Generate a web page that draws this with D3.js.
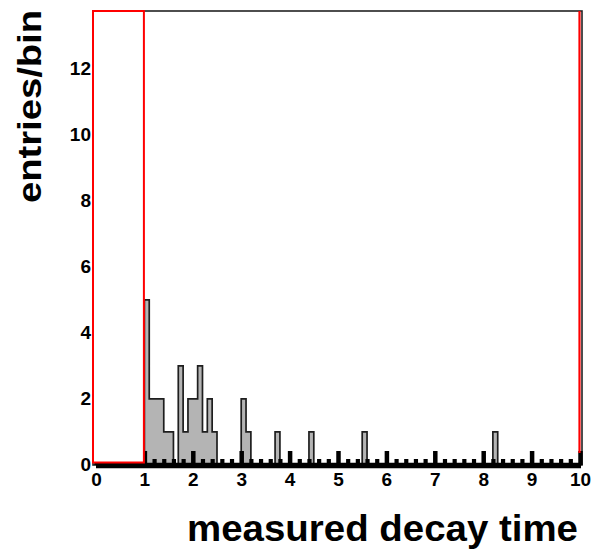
<!DOCTYPE html>
<html>
<head>
<meta charset="utf-8">
<script src="https://cdn.jsdelivr.net/npm/d3@7"></script>
<style>
  html, body { margin: 0; padding: 0; background: #fff; }
  svg { display: block; }
  text { font-family: "Liberation Sans", Arial, Helvetica, sans-serif; font-weight: bold; fill: #000; }
</style>
</head>
<body>
<script>
// ---- data ----
const binWidth = 0.1;
const binLow  = [1.0, 1.1, 1.2, 1.3, 1.4, 1.5, 1.7, 1.8, 1.9, 2.0, 2.1, 2.2, 2.3, 2.4, 3.0, 3.1, 3.7, 4.4, 5.5, 8.2];
const counts  = [5,   2,   2,   2,   1,   1,   3,   1,   2,   2,   3,   1,   2,   1,   2,   1,   1,   1,   1,   1];
const xTicks  = [0, 1, 2, 3, 4, 5, 6, 7, 8, 9, 10];
const yTicks  = [0, 2, 4, 6, 8, 10, 12];
const xDomain = [0, 10];
const yDomain = [0, 13.74];
const redBox  = [0, 1];
const xTitle  = "measured decay time";
const yTitle  = "entries/bin";

// ---- layout ----
const W = 593, H = 551;
const svg = d3.select("body").append("svg").attr("width", W).attr("height", H);

const x = d3.scaleLinear().domain(xDomain).range([96, 580]);
const y = d3.scaleLinear().domain(yDomain).range([465, 11]);

// histogram step path
const nBins = Math.round((xDomain[1] - xDomain[0]) / binWidth);
const dense = new Array(nBins).fill(0);
binLow.forEach((b, i) => { dense[Math.round((b - xDomain[0]) / binWidth)] = counts[i]; });
const pts = [[xDomain[0], 0]];
dense.forEach((c, i) => pts.push([xDomain[0] + i * binWidth, c]));
pts.push([xDomain[1], 0]);

const line = d3.line().x(d => x(d[0])).y(d => y(d[1])).curve(d3.curveStepAfter);
svg.append("path")
  .attr("d", line(pts))
  .attr("fill", "#b4b4b4")
  .attr("stroke", "#1e1e1e")
  .attr("stroke-width", 1.7)
  .attr("stroke-linejoin", "miter");

// frame (top/right)
svg.append("rect")
  .attr("x", 93).attr("y", y(yDomain[1]))
  .attr("width", 582 - 93).attr("height", y(0) - y(yDomain[1]))
  .attr("fill", "none").attr("stroke", "#222").attr("stroke-width", 1.6);

// x axis: minor ticks
const minor = d3.range(0, 10.001, 0.2).filter(v => Math.abs(v - Math.round(v)) > 1e-6);
const gMinor = svg.append("g").attr("transform", `translate(0,${y(0)})`)
  .call(d3.axisBottom(x).tickValues(minor).tickSize(-6).tickSizeOuter(0).tickFormat(""));
gMinor.select(".domain").remove();
gMinor.selectAll(".tick line").attr("stroke", "#000").attr("stroke-width", 4.2);

// x axis: major ticks + labels
const gX = svg.append("g").attr("transform", `translate(0,${y(0)})`)
  .call(d3.axisBottom(x).tickValues(xTicks).tickSize(-14).tickSizeOuter(0).tickPadding(8).tickFormat(d3.format("d")));
gX.select(".domain").attr("stroke", "#000").attr("stroke-width", 5.5)
  .attr("d", `M${x(0)},0.5H${x(10) + 1}`);
gX.selectAll(".tick line").attr("stroke", "#000").attr("stroke-width", 4.5);
gX.selectAll(".tick text").attr("font-size", 19).attr("font-weight", "bold")
  .attr("font-family", "Liberation Sans, Arial, sans-serif").attr("fill", "#000");

// y axis labels
const gY = svg.append("g").attr("transform", `translate(93,0)`)
  .call(d3.axisLeft(y).tickValues(yTicks).tickSize(0).tickPadding(2).tickFormat(d3.format("d")));
gY.select(".domain").remove();
gY.selectAll(".tick text").attr("font-size", 19).attr("font-weight", "bold")
  .attr("font-family", "Liberation Sans, Arial, sans-serif").attr("fill", "#000")
  .attr("dy", "0.3em");

// red box (white inside, hides ticks) and red right line
svg.append("rect")
  .attr("x", x(redBox[0]) - 3).attr("y", y(yDomain[1]))
  .attr("width", x(redBox[1]) - x(redBox[0]) + 3 - 0.5)
  .attr("height", y(0) - 2.5 - y(yDomain[1]))
  .attr("fill", "#fff").attr("stroke", "#ff0000").attr("stroke-width", 2);
svg.append("line")
  .attr("x1", x(xDomain[1]) - 0.5).attr("x2", x(xDomain[1]) - 0.5)
  .attr("y1", y(yDomain[1])).attr("y2", y(0) - 12)
  .attr("stroke", "#ff0000").attr("stroke-width", 2.2);

// axis titles
svg.append("text")
  .attr("x", 187).attr("y", 541)
  .attr("font-size", 36)
  .attr("textLength", 391).attr("lengthAdjust", "spacingAndGlyphs")
  .text(xTitle);

svg.append("text")
  .attr("transform", "translate(41,203) rotate(-90)")
  .attr("x", 0).attr("y", 0)
  .attr("font-size", 33)
  .attr("textLength", 193).attr("lengthAdjust", "spacingAndGlyphs")
  .text(yTitle);
</script>
</body>
</html>
